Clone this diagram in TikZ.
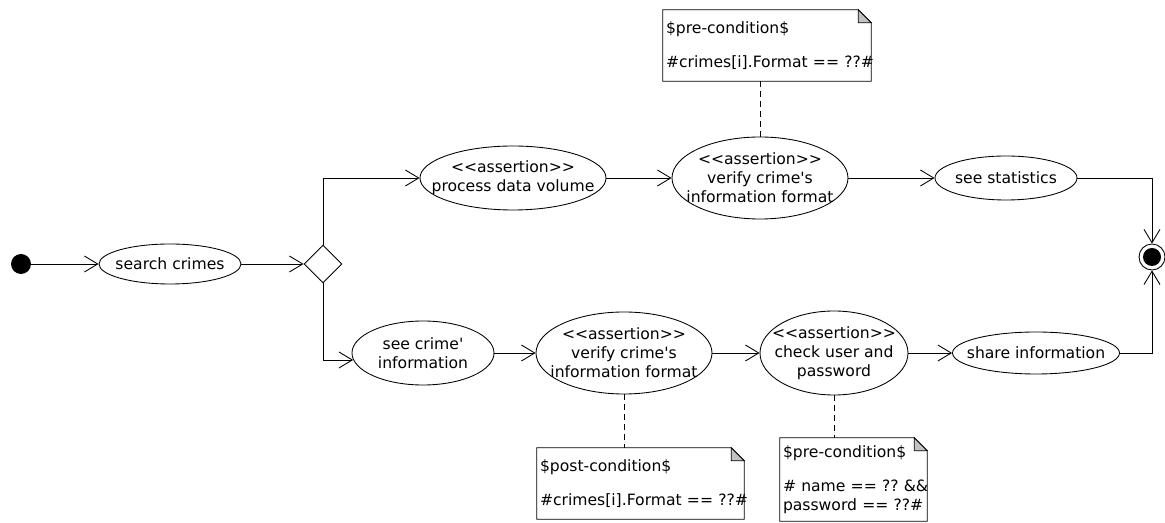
\documentclass[tikz,border=0pt]{standalone}
\usepackage{fontspec}
\setmainfont{DejaVu Sans}[Ligatures=TeXOff]
\usepackage{tikz}
\usetikzlibrary{arrows.meta,calc,positioning,shapes.geometric}
\definecolor{koseGri}{HTML}{C2C2C2}
\definecolor{cizgiSiyah}{HTML}{000000}
\newcommand{\kat}{9.75pt}
% not kutusu: kivrik koseli cerceve
\newcommand{\notCiz}[1]{%
  \draw[cerceve] (#1.south west) -- (#1.north west) -- ([xshift=-\kat]#1.north east)
    -- ([yshift=-\kat]#1.north east) -- (#1.south east) -- cycle;
  \filldraw[cerceve,fill=koseGri] ([xshift=-\kat]#1.north east)
    -- ([xshift=-\kat,yshift=-\kat]#1.north east) -- ([yshift=-\kat]#1.north east) -- cycle;}

\begin{document}
\begin{tikzpicture}[x=0.75pt,y=-0.75pt,
  yazi/.style={font=\fontsize{11.7}{14.25}\selectfont},
  eylem/.style={yazi,ellipse,draw,line width=0.65pt,align=center,inner xsep=-30pt,inner ysep=-15pt},
  karar/.style={diamond,draw,line width=0.65pt,minimum size=28.5pt,inner sep=0pt},
  basla/.style={circle,fill=cizgiSiyah,minimum size=15pt,inner sep=0pt},
  bitis/.style={circle,draw,line width=0.65pt,minimum size=19.5pt,inner sep=0pt,
    path picture={\fill (path picture bounding box.center) circle (6.75pt);}},
  notYazi/.style={yazi,align=left,inner xsep=2.25pt,inner ysep=2.25pt},
  cerceve/.style={line width=0.65pt},
  akis/.style={-{Straight Barb[length=10pt,width=12pt]},line width=0.65pt},
  kesik/.style={line width=0.65pt,dash pattern=on 4.5pt off 3pt}]
\useasboundingbox (0,0) rectangle (1165,523);

\node[basla] (bas) at (21,264) {};
\node[eylem,minimum width=106.5pt,minimum height=30pt] (ara) at (170,264) {search crimes};
\node[karar] (dal) at (323,264) {};

\node[eylem,minimum width=139.5pt,minimum height=48pt] (hacim) at (513,178)
  {<<assertion>>\\process data volume};
\node[eylem,minimum width=132pt,minimum height=61.5pt] (format1) at (760,178)
  {<<assertion>>\\verify crime's\\information format};
\node[eylem,minimum width=106.5pt,minimum height=33pt] (ist) at (1006,178) {see statistics};

\node[eylem,minimum width=106.5pt,minimum height=48pt] (suc) at (423,353)
  {see crime'\\information};
\node[eylem,minimum width=132pt,minimum height=61.5pt] (format2) at (624,353)
  {<<assertion>>\\verify crime's\\information format};
\node[eylem,minimum width=111pt,minimum height=63pt] (kontrol) at (834,353)
  {<<assertion>>\\check user and\\password};
\node[eylem,minimum width=125.25pt,minimum height=31.5pt] (paylas) at (1036,353)
  {share information};

\node[bitis] (son) at (1152,257) {};

% notlar
\node[notYazi,minimum width=156pt,minimum height=53.25pt,text width=151.5pt] (not1) at (767,45.5)
  {\$pre-condition\$\\[11pt]\#crimes[i].Format~==~??\#};
\node[notYazi,minimum width=155.25pt,minimum height=53.25pt,text width=150.75pt] (not2) at (640.5,483.5)
  {\$post-condition\$\\[11pt]\#crimes[i].Format~==~??\#};
\node[notYazi,minimum width=110.25pt,minimum height=62.25pt,text width=105.75pt] (not3) at (853.5,479.5)
  {\$pre-condition\$\\[11pt]\#~name~==~??~\&\&\\password~==~??\#};
\notCiz{not1}
\notCiz{not2}
\notCiz{not3}

\draw[akis] (bas) -- (ara);
\draw[akis] (ara) -- (dal);
\draw[akis] (dal.north) |- (hacim);
\draw[akis] (hacim) -- (format1);
\draw[akis] (format1) -- (ist);
\draw[akis] (ist) -| (son);
\draw[akis] (dal.south) |- ([xshift=1.2pt,yshift=-5.25pt]suc.west);
\draw[akis] (suc) -- (format2);
\draw[akis] (format2) -- (kontrol);
\draw[akis] (kontrol) -- (paylas);
\draw[akis] (paylas) -| (son);

\draw[kesik] (format1.north) -- (format1.north |- not1.south);
\draw[kesik] (format2.south) -- (format2.south |- not2.north);
\draw[kesik] (kontrol.south) -- (kontrol.south |- not3.north);
\end{tikzpicture}
\end{document}
